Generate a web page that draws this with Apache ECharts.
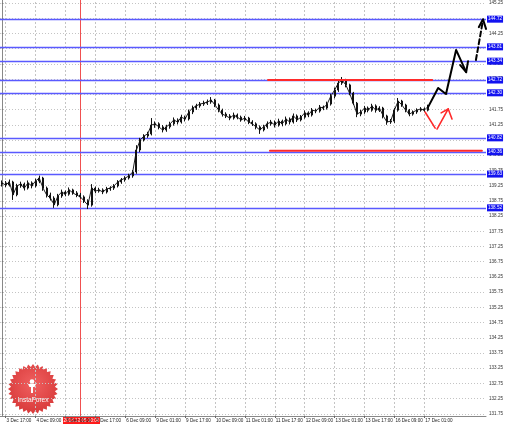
<!DOCTYPE html>
<html><head><meta charset="utf-8">
<script src="https://cdn.jsdelivr.net/npm/echarts@6/dist/echarts.min.js"></script>
<style>html,body{margin:0;padding:0;background:#fff}#c{width:510px;height:426px}</style>
</head><body><div id="c"></div>
<script>
// ---- data (2-hour bars) ----
const tickLabels = ['3 Dec 17:00','4 Dec 09:00','5 Dec 01:00','5 Dec 17:00','6 Dec 09:00','9 Dec 01:00','9 Dec 17:00','10 Dec 09:00','11 Dec 01:00','11 Dec 17:00','12 Dec 09:00','13 Dec 01:00','13 Dec 17:00','16 Dec 09:00','17 Dec 01:00'];
const yTicks = [131.75,132.25,132.75,133.25,133.75,134.25,134.75,135.25,135.75,136.25,136.75,137.25,137.75,138.25,138.75,139.25,139.75,140.25,140.75,141.25,141.75,142.25,142.75,143.25,143.75,144.25,144.75,145.25];
const levels = [144.72,143.81,143.34,142.72,142.30,140.82,140.36,139.63,138.52];
const lastPrice = 141.85;

const opens = [139.30,139.34,139.27,139.37,138.95,139.24,139.30,139.17,139.34,139.24,
 139.40,139.50,139.17,138.94,138.84,138.62,138.91,139.04,138.97,139.11,
 139.01,138.94,138.88,138.75,138.61,139.17,139.07,139.11,139.04,139.14,
 139.17,139.24,139.37,139.44,139.50,139.57,139.70,140.42,140.75,140.88,
 140.95,141.24,141.28,141.18,141.08,141.18,141.28,141.41,141.34,141.50,
 141.44,141.67,141.80,141.87,141.93,141.96,142.00,142.06,141.90,141.73,
 141.60,141.54,141.47,141.57,141.50,141.41,141.47,141.34,141.28,141.18,
 141.08,141.18,141.28,141.34,141.24,141.37,141.28,141.44,141.34,141.54,
 141.41,141.50,141.64,141.57,141.73,141.70,141.83,141.80,141.93,142.19,
 142.39,142.62,142.72,142.56,142.29,141.96,141.60,141.67,141.80,141.73,
 141.87,141.73,141.80,141.54,141.34,141.37,141.73,142.03,141.90,141.73,
 141.60,141.67,141.73,141.77,141.73];
const closes = [139.34,139.27,139.37,138.95,139.24,139.30,139.17,139.34,139.24,139.40,
 139.50,139.17,138.94,138.84,138.62,138.91,139.04,138.97,139.11,139.01,
 138.94,138.88,138.75,138.61,139.17,139.07,139.11,139.04,139.14,139.17,
 139.24,139.37,139.44,139.50,139.57,139.70,140.42,140.75,140.88,140.95,
 141.24,141.28,141.18,141.08,141.18,141.28,141.41,141.34,141.50,141.44,
 141.67,141.80,141.87,141.93,141.96,142.00,142.06,141.90,141.73,141.60,
 141.54,141.47,141.57,141.50,141.41,141.47,141.34,141.28,141.18,141.08,
 141.18,141.28,141.34,141.24,141.37,141.28,141.44,141.34,141.54,141.41,
 141.50,141.64,141.57,141.73,141.70,141.83,141.80,141.93,142.19,142.39,
 142.62,142.72,142.56,142.29,141.96,141.60,141.67,141.80,141.73,141.87,
 141.73,141.80,141.54,141.34,141.37,141.73,142.03,141.90,141.73,141.60,
 141.67,141.73,141.77,141.73,141.85];
const highs = [139.42,139.40,139.45,139.41,139.31,139.38,139.35,139.42,139.39,139.48,
 139.58,139.54,139.22,139.02,138.90,138.98,139.12,139.09,139.19,139.15,
 139.07,139.01,138.93,138.80,139.30,139.22,139.18,139.16,139.21,139.23,
 139.30,139.43,139.50,139.56,139.64,139.76,140.58,140.82,140.94,141.02,
 141.47,141.36,141.33,141.24,141.25,141.35,141.49,141.46,141.58,141.55,
 141.75,141.88,141.94,142.00,142.04,142.08,142.16,142.10,141.95,141.78,
 141.66,141.60,141.65,141.62,141.55,141.54,141.51,141.40,141.33,141.23,
 141.25,141.36,141.41,141.39,141.45,141.42,141.52,141.49,141.62,141.59,
 141.57,141.72,141.69,141.80,141.78,141.90,141.88,142.01,142.27,142.47,
 142.70,142.82,142.76,142.60,142.33,142.00,141.74,141.87,141.85,141.94,
 141.92,141.86,141.84,141.58,141.44,141.80,142.13,142.07,141.94,141.77,
 141.72,141.79,141.83,141.82,141.91];
const lows = [139.22,139.20,139.22,138.78,138.90,139.18,139.09,139.12,139.16,139.19,
 139.33,139.08,138.86,138.76,138.52,138.57,138.85,138.90,138.92,138.95,
 138.87,138.82,138.68,138.48,138.56,139.00,139.02,138.97,138.99,139.08,
 139.11,139.19,139.31,139.38,139.45,139.51,139.64,140.35,140.70,140.82,
 140.90,141.15,141.10,141.00,141.02,141.12,141.22,141.26,141.29,141.36,
 141.39,141.60,141.74,141.81,141.87,141.90,141.94,141.83,141.66,141.52,
 141.47,141.40,141.42,141.43,141.35,141.36,141.27,141.21,141.10,140.95,
 141.03,141.12,141.22,141.16,141.19,141.20,141.23,141.26,141.29,141.34,
 141.36,141.45,141.50,141.52,141.63,141.65,141.73,141.75,141.88,142.12,
 142.33,142.56,142.48,142.22,141.90,141.50,141.53,141.61,141.66,141.68,
 141.65,141.67,141.46,141.25,141.28,141.31,141.68,141.84,141.66,141.53,
 141.55,141.61,141.68,141.67,141.69];

// annotations in data coordinates: [slot, price]
const redLevel1 = [[71.2,142.72],[115.1,142.72]];
const redLevel2 = [[71.7,140.40],[128.4,140.40]];
const forecastBlack = [[114,141.83],[116.7,142.46],[118.8,142.26],[121.5,143.71],[124.2,142.98]];
const forecastBlackHead = [[122.6,143.21],[124.2,142.98],[124.7,143.34]];
const forecastDash = [[126.8,143.38],[128.7,144.69]];
const forecastDashHead = [[127.6,144.46],[128.7,144.72],[129.5,144.40]];
const redStroke1 = [[113.2,141.67],[115.9,141.14]];
const redStroke2 = [[116.4,141.11],[119.4,141.77]];
const redHead = [[117.5,141.64],[119.4,141.77],[120.4,141.44]];
const cursorSlot = 21;
const cursorLabel = '2013.12.05 10:00';
const slotCount = 130;

// ---- chart ----
const FONT = 'Liberation Sans';
const slots = Array.from({length: slotCount}, (_, i) => String(i));
const labelSlots = tickLabels.map((_, k) => 1 + 8 * k);
const isLabelSlot = i => (i - 1) % 8 === 0 && (i - 1) / 8 < tickLabels.length;

function lineSeries(data, color, width, type, z) {
  return {type: 'line', xAxisIndex: 1, yAxisIndex: 0, data, symbol: 'none', silent: true,
    animation: false, z: z || 8, lineStyle: {color, width, type: type || 'solid', cap: 'round', join: 'round'}};
}

const logoC = [33, 389], rOut = 25, rIn = 22, teeth = 32;
const starPts = [];
for (let i = 0; i < teeth * 2; i++) {
  const a = Math.PI * i / teeth - Math.PI / 2;
  const r = i % 2 === 0 ? rOut : rIn;
  starPts.push([logoC[0] + r * Math.cos(a), logoC[1] + r * Math.sin(a)]);
}

const chart = echarts.init(document.getElementById('c'), null, {renderer: 'canvas'});
chart.setOption({
  animation: false,
  backgroundColor: '#ffffff',
  grid: {left: 0, right: 24, top: 0, bottom: 10},
  xAxis: [{
    type: 'category', data: slots, boundaryGap: true,
    axisLine: {lineStyle: {color: '#888', width: 1}},
    axisTick: {show: true, alignWithLabel: true, length: 2, interval: (i) => isLabelSlot(i), lineStyle: {color: '#666'}},
    axisLabel: {interval: (i) => isLabelSlot(i), formatter: (v, i) => isLabelSlot(i) ? tickLabels[(i - 1) / 8] : '',
      fontSize: 4.6, fontFamily: FONT, color: '#222', align: 'left', margin: 2, padding: [0, 0, 0, 1]},
    splitLine: {show: false}
  }, {
    type: 'value', min: -0.5, max: slotCount - 0.5, show: false, position: 'bottom'
  }],
  yAxis: [{
    type: 'value', position: 'right', min: 131.68, max: 145.35, scale: true,
    axisLine: {show: true, lineStyle: {color: '#888', width: 1}},
    axisTick: {show: true, length: 2, customValues: yTicks, lineStyle: {color: '#777'}},
    axisLabel: {customValues: yTicks, formatter: v => v.toFixed(2), fontSize: 4.6, fontFamily: FONT, color: '#333', margin: 3},
    splitLine: {show: false}
  }],
  series: [
    { // grid lines
      type: 'line', xAxisIndex: 1, yAxisIndex: 0, data: [], silent: true, z: 1,
      markLine: {silent: true, symbol: 'none', animation: false, z: 1, label: {show: false},
        data: yTicks.map(v => ({yAxis: v, lineStyle: {color: '#c4c4c4', type: [1, 2], width: 1}}))
          .concat(labelSlots.map(s => ({xAxis: s, lineStyle: {color: '#c4c4c4', type: [2, 2], width: 1}})))
          .concat([{xAxis: cursorSlot, lineStyle: {color: '#f05050', type: 'solid', width: 1}}])}
    },
    { // horizontal levels
      type: 'line', xAxisIndex: 1, yAxisIndex: 0, data: [], silent: true, z: 2,
      markLine: {silent: true, symbol: 'none', animation: false, z: 2,
        data: levels.map(v => ({yAxis: v, lineStyle: {color: '#5a5aff', type: 'solid', width: 1.3},
          label: {show: true, position: 'end', distance: 1, formatter: v.toFixed(2), backgroundColor: '#1212f0',
            color: '#fff', fontSize: 4.6, fontFamily: FONT, padding: [1, 1, 1, 1]}}))
          .concat([{yAxis: lastPrice, lineStyle: {opacity: 0},
            label: {show: true, position: 'end', distance: 1, formatter: lastPrice.toFixed(2), backgroundColor: '#000',
              color: '#fff', fontSize: 4.6, fontFamily: FONT, padding: [1, 1, 1, 1]}}])}
    },
    {
      type: 'line', xAxisIndex: 0, yAxisIndex: 0, z: 3, silent: true, symbol: 'none',
      data: closes, lineStyle: {color: '#222', width: 1}
    },
    {
      type: 'candlestick', xAxisIndex: 0, yAxisIndex: 0, z: 4, silent: true,
      data: opens.map((o, i) => [o, closes[i], lows[i], highs[i]]),
      barWidth: 1.5,
      itemStyle: {color: '#111', color0: '#111', borderColor: '#111', borderColor0: '#111', borderWidth: 1}
    },
    lineSeries(redLevel1, '#ff2a2a', 2, 'solid', 7),
    lineSeries(redLevel2, '#ff2a2a', 2, 'solid', 7),
    lineSeries(forecastBlack, '#000', 2),
    lineSeries(forecastBlackHead, '#000', 2),
    lineSeries(forecastDash, '#000', 2, [5, 3]),
    lineSeries(forecastDashHead, '#000', 2),
    lineSeries(redStroke1, '#ff2a2a', 1.6),
    lineSeries(redStroke2, '#ff2a2a', 1.6),
    lineSeries(redHead, '#ff2a2a', 1.6)
  ],
  graphic: [
    {type: 'group', z: 100, children: [
      {type: 'rect', shape: {x: 63, y: 417, width: 37, height: 7}, style: {fill: '#ff1a1a'}},
      {type: 'text', x: 81.5, y: 420.5, style: {text: cursorLabel, fill: '#fff', font: '4.6px ' + FONT, align: 'center', verticalAlign: 'middle'}}
    ]},
    {type: 'group', z: 90, children: [
      {type: 'polygon', shape: {points: starPts},
        style: {fill: new echarts.graphic.RadialGradient(0.5, 0.4, 0.6, [{offset: 0, color: '#f06060'}, {offset: 1, color: '#d83a3a'}])}},
      {type: 'circle', shape: {cx: 32, cy: 381.5, r: 2.3}, style: {fill: '#fff'}},
      {type: 'polygon', shape: {points: [[28, 384], [36, 384], [34.5, 387], [33, 387], [33, 393], [31, 393], [31, 387], [29.5, 387]]}, style: {fill: '#fff'}},
      {type: 'text', x: 33, y: 400, style: {text: 'InstaForex', fill: '#fff', font: '6.6px ' + FONT, align: 'center', verticalAlign: 'middle'}}
    ]}
  ]
});
</script></body></html>
